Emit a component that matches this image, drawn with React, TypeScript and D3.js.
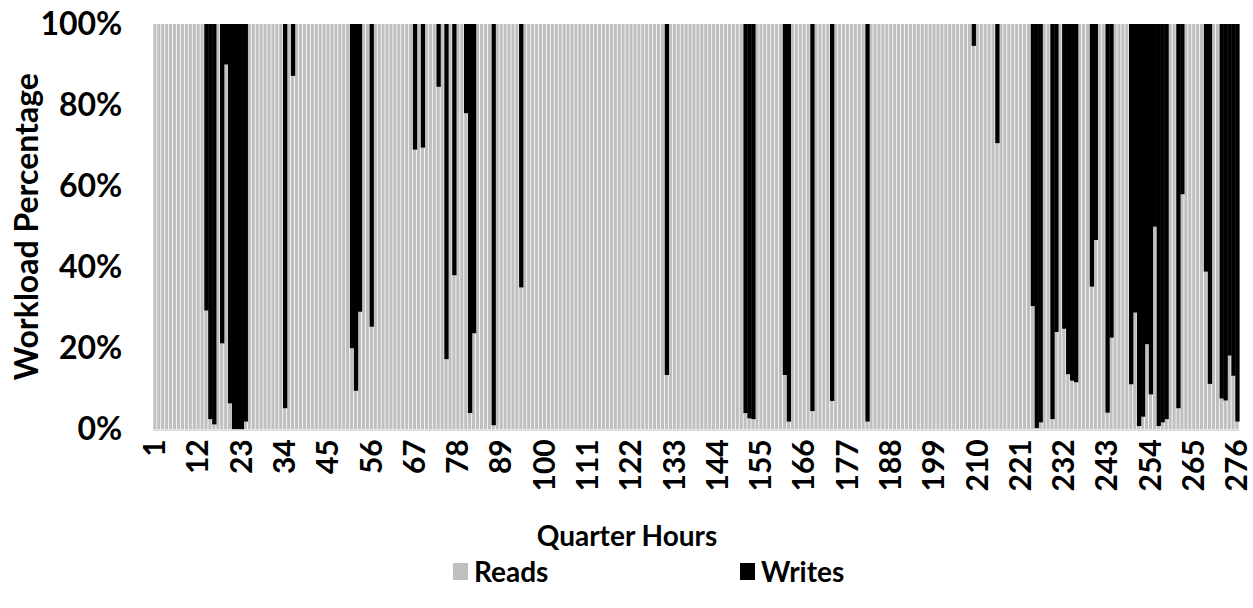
import React, { useEffect, useRef } from 'react';
import * as d3 from 'd3';

// share of reads per quarter hour (%), quarter hours 1..276, ten per row
const reads: number[] = [
  100, 100, 100, 100, 100, 100, 100, 100, 100, 100,
  100, 100, 100, 29.3, 2.5, 1.2, 100, 21.2, 90, 6.4,
  0, 0, 0, 1.9, 100, 100, 100, 100, 100, 100,
  100, 100, 100, 5.2, 100, 87.2, 100, 100, 100, 100,
  100, 100, 100, 100, 100, 100, 100, 100, 100, 100,
  20, 9.5, 29, 100, 100, 25.3, 100, 100, 100, 100,
  100, 100, 100, 100, 100, 100, 69, 100, 69.5, 100,
  100, 100, 84.5, 100, 17.3, 100, 38, 100, 100, 78,
  4, 23.7, 100, 100, 100, 100, 1, 100, 100, 100,
  100, 100, 100, 35, 100, 100, 100, 100, 100, 100,
  100, 100, 100, 100, 100, 100, 100, 100, 100, 100,
  100, 100, 100, 100, 100, 100, 100, 100, 100, 100,
  100, 100, 100, 100, 100, 100, 100, 100, 100, 100,
  13.4, 100, 100, 100, 100, 100, 100, 100, 100, 100,
  100, 100, 100, 100, 100, 100, 100, 100, 100, 100,
  4, 2.7, 2.5, 100, 100, 100, 100, 100, 100, 100,
  13.4, 1.9, 100, 100, 100, 100, 100, 4.5, 100, 100,
  100, 100, 7, 100, 100, 100, 100, 100, 100, 100,
  100, 1.9, 100, 100, 100, 100, 100, 100, 100, 100,
  100, 100, 100, 100, 100, 100, 100, 100, 100, 100,
  100, 100, 100, 100, 100, 100, 100, 100, 94.6, 100,
  100, 100, 100, 100, 70.6, 100, 100, 100, 100, 100,
  100, 100, 100, 30.4, 0.3, 1.7, 100, 100, 2.5, 24,
  100, 24.8, 13.6, 12, 11.6, 100, 100, 100, 35.2, 46.7,
  100, 100, 4.1, 22.6, 100, 100, 100, 100, 11.1, 28.8,
  0.8, 3.1, 21, 8.6, 50, 0.8, 1.7, 2.5, 100, 100,
  5.2, 58, 100, 100, 100, 100, 100, 38.9, 11.2, 100,
  100, 7.6, 7.1, 18.2, 13.2, 1.9,
];

// share of writes per quarter hour (%)
const writes: number[] = [
  0, 0, 0, 0, 0, 0, 0, 0, 0, 0,
  0, 0, 0, 70.7, 97.5, 98.8, 0, 78.8, 10, 93.6,
  100, 100, 100, 98.1, 0, 0, 0, 0, 0, 0,
  0, 0, 0, 94.8, 0, 12.8, 0, 0, 0, 0,
  0, 0, 0, 0, 0, 0, 0, 0, 0, 0,
  80, 90.5, 71, 0, 0, 74.7, 0, 0, 0, 0,
  0, 0, 0, 0, 0, 0, 31, 0, 30.5, 0,
  0, 0, 15.5, 0, 82.7, 0, 62, 0, 0, 22,
  96, 76.3, 0, 0, 0, 0, 99, 0, 0, 0,
  0, 0, 0, 65, 0, 0, 0, 0, 0, 0,
  0, 0, 0, 0, 0, 0, 0, 0, 0, 0,
  0, 0, 0, 0, 0, 0, 0, 0, 0, 0,
  0, 0, 0, 0, 0, 0, 0, 0, 0, 0,
  86.6, 0, 0, 0, 0, 0, 0, 0, 0, 0,
  0, 0, 0, 0, 0, 0, 0, 0, 0, 0,
  96, 97.3, 97.5, 0, 0, 0, 0, 0, 0, 0,
  86.6, 98.1, 0, 0, 0, 0, 0, 95.5, 0, 0,
  0, 0, 93, 0, 0, 0, 0, 0, 0, 0,
  0, 98.1, 0, 0, 0, 0, 0, 0, 0, 0,
  0, 0, 0, 0, 0, 0, 0, 0, 0, 0,
  0, 0, 0, 0, 0, 0, 0, 0, 5.4, 0,
  0, 0, 0, 0, 29.4, 0, 0, 0, 0, 0,
  0, 0, 0, 69.6, 99.7, 98.3, 0, 0, 97.5, 76,
  0, 75.2, 86.4, 88, 88.4, 0, 0, 0, 64.8, 53.3,
  0, 0, 95.9, 77.4, 0, 0, 0, 0, 88.9, 71.2,
  99.2, 96.9, 79, 91.4, 50, 99.2, 98.3, 97.5, 0, 0,
  94.8, 42, 0, 0, 0, 0, 0, 61.1, 88.8, 0,
  0, 92.4, 92.9, 81.8, 86.8, 98.1,
];

const tickLabels: number[] = [1, 12, 23, 34, 45, 56, 67, 78, 89, 100, 111, 122, 133, 144, 155, 166, 177, 188, 199, 210, 221, 232, 243, 254, 265, 276];
const yTicks: number[] = [0, 0.2, 0.4, 0.6, 0.8, 1];
const seriesNames: string[] = ['Reads', 'Writes'];
const seriesColors: string[] = ['#BFBFBF', '#000000'];

const FONT = 'Lato, "Open Sans", sans-serif';

const App: React.FC = () => {
  const svgRef = useRef<SVGSVGElement | null>(null);

  useEffect(() => {
    if (!svgRef.current) return;
    const svg = d3.select(svgRef.current);
    const width = 1253;
    const height = 608;
    const margin = { top: 24, right: 13.6, bottom: 178.7, left: 153.3 };

    svg.selectAll('*').remove();

    const quarters = d3.range(1, reads.length + 1);
    const table = quarters.map((q, i) => ({ q, Reads: reads[i], Writes: writes[i] }));
    const layers = d3.stack<any>().keys(seriesNames).offset(d3.stackOffsetExpand)(table);

    const x = d3.scaleBand<number>()
      .domain(quarters)
      .range([margin.left, width - margin.right])
      .padding(0);

    const y = d3.scaleLinear()
      .domain([0, 1])
      .range([height - margin.bottom, margin.top]);

    const step = x.step();

    // bars
    layers.forEach((layer, li) => {
      svg.append('g')
        .selectAll('rect')
        .data(layer)
        .join('rect')
        .attr('x', d => li === 0 ? x(d.data.q)! : x(d.data.q)! - 0.2)
        .attr('width', li === 0 ? step - 0.8 : step + 0.4)
        .attr('y', d => y(d[1]))
        .attr('height', d => Math.max(0, y(d[0]) - y(d[1])))
        .attr('fill', seriesColors[li]);
    });

    // baseline
    svg.append('line')
      .attr('x1', margin.left)
      .attr('x2', width - margin.right)
      .attr('y1', y(0) + 1)
      .attr('y2', y(0) + 1)
      .attr('stroke', '#D9D9D9')
      .attr('stroke-width', 1.5);

    // y axis
    const yAxis = svg.append('g')
      .attr('transform', `translate(${margin.left},0)`)
      .call(d3.axisLeft(y).tickValues(yTicks).tickSize(0).tickPadding(31).tickFormat(d3.format('.0%')));
    yAxis.select('.domain').remove();
    yAxis.selectAll('text')
      .attr('font-family', FONT)
      .attr('font-weight', 'bold')
      .attr('font-size', 32)
      .attr('fill', '#000');

    // x axis
    const xAxis = svg.append('g')
      .attr('transform', `translate(0,${y(0)})`)
      .call(d3.axisBottom(x).tickValues(tickLabels).tickSize(0));
    xAxis.select('.domain').remove();
    xAxis.selectAll('text')
      .attr('transform', 'rotate(-90)')
      .attr('x', -10)
      .attr('y', 0)
      .attr('dy', '0.33em')
      .attr('text-anchor', 'end')
      .attr('font-family', FONT)
      .attr('font-weight', 'bold')
      .attr('font-size', 30)
      .attr('fill', '#000');

    // axis titles
    svg.append('text')
      .attr('transform', `translate(38,${(y(0) + y(1)) / 2}) rotate(-90)`)
      .attr('text-anchor', 'middle')
      .attr('font-family', FONT)
      .attr('font-weight', 'bold')
      .attr('font-size', 32)
      .text('Workload Percentage');

    svg.append('text')
      .attr('x', 627)
      .attr('y', 546)
      .attr('text-anchor', 'middle')
      .attr('font-family', FONT)
      .attr('font-weight', 'bold')
      .attr('font-size', 28)
      .text('Quarter Hours');

    // legend
    const legendX = [453, 740];
    seriesNames.forEach((name, i) => {
      svg.append('rect')
        .attr('x', legendX[i])
        .attr('y', 563)
        .attr('width', 15)
        .attr('height', 17)
        .attr('fill', seriesColors[i]);
      svg.append('text')
        .attr('x', legendX[i] + 21)
        .attr('y', 582)
        .attr('font-family', FONT)
        .attr('font-weight', 'bold')
        .attr('font-size', 28)
        .text(name);
    });
  }, []);

  return (
    <svg
      ref={svgRef}
      width={1253}
      height={608}
      style={{ position: 'absolute', left: 0, top: 0, background: '#fff' }}
    />
  );
};

export default App;
